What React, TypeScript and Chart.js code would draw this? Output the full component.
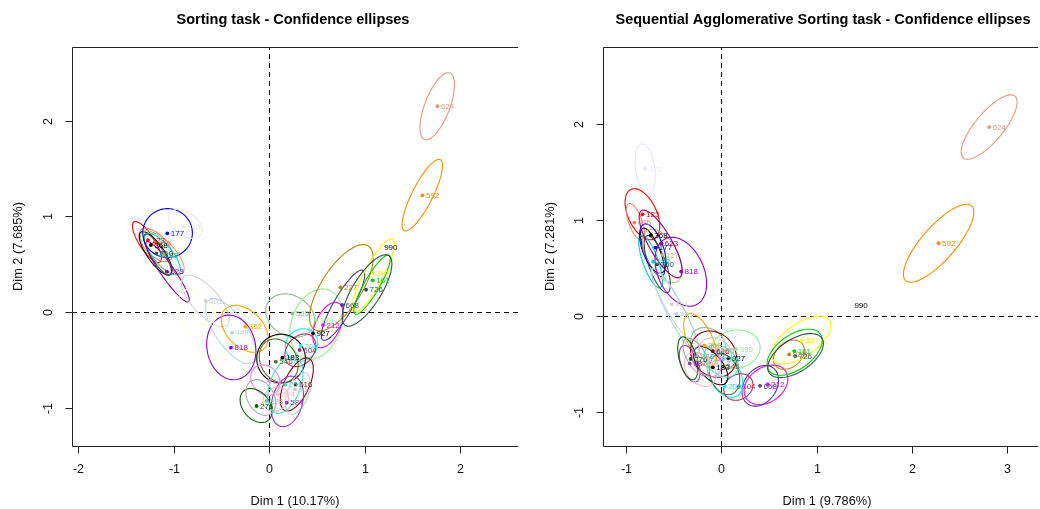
import React, { useEffect, useRef } from "react";
import { Chart, registerables } from "chart.js";
Chart.register(...registerables);

// ---------- data ----------
const labels = ["123","675","368","182","117","760","177","378","623","401","809","449","818","362","565","399","212","927","227","668","387","161","726","990","592","624","204","604","183","546","616","654","587","374","129","276","328","251"];
const colors = ["#FF0000","#FA8072","#000000","#00CED1","#BDB76B","#2F4F4F","#0000FF","#E6E6FA","#8B008B","#D3D3D3","#FFFFE0","#ADD8E6","#9400D3","#FFA500","#8FBC8F","#90EE90","#FF00FF","#000000","#B8860B","#483D8B","#FFFF00","#00CD00","#2F4F4F","#000000","#FF8C00","#E9967A","#00FFFF","#B03060","#000000","#556B2F","#8B0000","#C8C8C8","#9932CC","#FFB6C1","#EE82EE","#006400","#A9A9A9","#40E0D0"];
const hiddenMarkers = ["990"];

// Sorting task: product coordinates
const sortX = [-1.27,-1.2,-1.24,-1.13,-1.1,-1.183,-1.068,-0.898,-1.072,-0.668,-0.707,-0.39,-0.4,-0.25,0.243,0.494,0.564,0.459,0.748,0.765,1.086,1.086,1.016,1.169,1.607,1.764,0.33,0.32,0.139,0.07,0.278,0.271,0.185,0.09,0.0,-0.132,-0.03,0.17];
const sortY = [0.752,0.72,0.70,0.596,0.60,0.613,0.822,0.89,0.421,0.115,-0.122,-0.216,-0.373,-0.153,-0.014,-0.084,-0.136,-0.223,0.258,0.073,0.408,0.331,0.233,0.679,1.219,2.15,-0.355,-0.397,-0.477,-0.519,-0.756,-0.808,-0.947,-0.86,-0.72,-0.982,-0.93,-0.76];
// Sorting task: confidence ellipses (centre, semi-axes, angle in degrees)
const sortEX = [-1.282,-1.19,-1.19,-1.12,-1.12,-1.17,-1.065,-0.88,-1.065,-0.668,-0.70,-0.4,-0.397,-0.256,0.22,0.495,0.617,0,0.757,0.774,1.093,1.079,1.026,0,1.606,1.762,0.339,0.327,0.125,0.1,0.29,0.3,0.19,0.07,-0.04,-0.137,-0.087,0.17];
const sortEY = [0.731,0.70,0.613,0.605,0.62,0.60,0.825,0.92,0.421,0.117,-0.124,-0.2,-0.37,-0.176,-0.037,-0.126,-0.136,0,0.254,0.071,0.382,0.286,0.225,0,1.221,2.15,-0.345,-0.40,-0.487,-0.51,-0.757,-0.85,-0.934,-0.91,-0.71,-0.977,-0.893,-0.763];
const sortEA = [0.25,0.22,0.27,0.27,0.30,0.25,0.26,0.20,0.384,0.34,0.40,0.40,0.34,0.29,0.27,0.38,0.255,0,0.52,0.42,0.43,0.355,0.43,0,0.416,0.372,0.18,0.19,0.255,0.24,0.30,0.23,0.27,0.14,0.17,0.20,0.20,0.31];
const sortEB = [0.08,0.11,0.09,0.10,0.12,0.07,0.255,0.12,0.07,0.14,0.18,0.162,0.255,0.19,0.21,0.26,0.13,0,0.21,0.10,0.10,0.08,0.15,0,0.108,0.131,0.16,0.14,0.255,0.19,0.13,0.11,0.16,0.12,0.14,0.14,0.14,0.16];
const sortEAng = [-57,-45,-55,-50,-45,-58,0,-35,-55,-48,-60,-55,-80,-45,-30,70,65,0,57,60,62,60,58,0,63,69,45,50,0,-60,65,70,75,30,-50,-50,-60,70];

// Sequential agglomerative sorting task: product coordinates
const sasX = [-0.825,-0.91,-0.738,-0.714,-0.616,-0.672,-0.69,-0.797,-0.627,-0.52,-0.25,-0.47,-0.42,-0.174,-0.04,0.157,0.487,0.076,0.713,0.407,0.845,0.766,0.776,1.36,2.28,2.81,0.035,0.184,-0.088,0.017,-0.088,-0.035,-0.33,-0.2,-0.122,-0.32,-0.25,0.02];
const sasY = [1.056,0.97,0.84,0.562,0.632,0.535,0.71,1.53,0.755,0.12,-0.45,0.018,0.46,-0.3125,-0.36,-0.347,-0.715,-0.444,-0.403,-0.73,-0.26,-0.368,-0.42,0.11,0.755,1.965,-0.74,-0.74,-0.537,-0.531,-0.368,-0.357,-0.497,-0.5,-0.444,-0.451,-0.42,-0.45];
const sasEX = [-0.826,-0.9,-0.72,-0.74,-0.617,-0.67,-0.717,-0.797,-0.635,-0.5,-0.25,-0.48,-0.423,-0.22,-0.135,0.15,0.47,0,0.71,0.41,0.84,0.77,0.78,0,2.28,2.81,0.04,0.18,-0.11,0.035,-0.08,-0.06,-0.33,-0.22,-0.15,-0.35,-0.26,0.0];
const sasEY = [1.057,0.98,0.66,0.564,0.623,0.537,0.70,1.53,0.748,0.1,-0.45,0.05,0.458,-0.255,-0.30,-0.35,-0.72,0,-0.406,-0.73,-0.253,-0.38,-0.415,0,0.755,1.965,-0.62,-0.743,-0.52,-0.61,-0.4,-0.38,-0.5,-0.56,-0.47,-0.444,-0.43,-0.47];
const sasEA = [0.285,0.2,0.27,0.29,0.31,0.315,0.27,0.26,0.40,0.45,0.2,0.5,0.38,0.30,0.20,0.26,0.25,0,0.18,0.23,0.36,0.33,0.33,0,0.52,0.42,0.25,0.16,0.24,0.22,0.26,0.18,0.20,0.20,0.18,0.23,0.22,0.20];
const sasEB = [0.15,0.07,0.08,0.08,0.16,0.09,0.11,0.10,0.12,0.08,0.13,0.09,0.24,0.13,0.16,0.20,0.18,0,0.13,0.17,0.17,0.18,0.17,0,0.176,0.148,0.16,0.13,0.12,0.15,0.22,0.14,0.09,0.14,0.13,0.09,0.10,0.14];
const sasEAng = [-65,-70,-68,-70,-60,-70,-70,-82,-60,-60,-50,-62,-65,-65,-40,10,35,0,40,55,35,35,33,0,48.5,50,-60,30,-50,-70,-45,-30,-70,-50,-50,-75,-60,-40];

const sortXTicks = [-2, -1, 0, 1, 2];
const sortYTicks = [-1, 0, 1, 2];
const sasXTicks = [-1, 0, 1, 2, 3];
const sasYTicks = [-1, 0, 1, 2];

const FONT = '"Liberation Sans", Arial, Helvetica, sans-serif';

type Panel = {
  title: string; xTitle: string; yTitle: string;
  px: number[]; py: number[]; ex: number[]; ey: number[]; ea: number[]; eb: number[]; eang: number[];
  xTicks: number[]; yTicks: number[];
  xMin: number; xMax: number; yMin: number; yMax: number;
  padLeft: number; titleCx: number; xTitleCx: number; yTitleX: number;
};

const panels: Panel[] = [
  {
    title: "Sorting task - Confidence ellipses", xTitle: "Dim 1 (10.17%)", yTitle: "Dim 2 (7.685%)",
    px: sortX, py: sortY, ex: sortEX, ey: sortEY, ea: sortEA, eb: sortEB, eang: sortEAng,
    xTicks: sortXTicks, yTicks: sortYTicks,
    xMin: -2.067, xMax: 2.61, yMin: -1.40, yMax: 2.769,
    padLeft: 72, titleCx: 293, xTitleCx: 295, yTitleX: 18,
  },
  {
    title: "Sequential Agglomerative Sorting task - Confidence ellipses", xTitle: "Dim 1 (9.786%)", yTitle: "Dim 2 (7.281%)",
    px: sasX, py: sasY, ex: sasEX, ey: sasEY, ea: sasEA, eb: sasEB, eang: sasEAng,
    xTicks: sasXTicks, yTicks: sasYTicks,
    xMin: -1.239, xMax: 3.323, yMin: -1.357, yMax: 2.799,
    padLeft: 83, titleCx: 303, xTitleCx: 307, yTitleX: 30,
  },
];

function makePlugin(p: Panel) {
  return {
    id: "rstyle",
    beforeDatasetsDraw(chart: any) {
      const { ctx, chartArea: ca } = chart;
      const xs = chart.scales.x, ys = chart.scales.y;
      ctx.save();
      ctx.beginPath();
      ctx.rect(ca.left, ca.top, ca.right - ca.left, ca.bottom - ca.top);
      ctx.clip();
      // zero lines
      ctx.strokeStyle = "#000";
      ctx.lineWidth = 1;
      ctx.setLineDash([5, 4]);
      const x0 = Math.round(xs.getPixelForValue(0)) + 0.5;
      const y0 = Math.round(ys.getPixelForValue(0)) + 0.5;
      ctx.beginPath(); ctx.moveTo(x0, ca.bottom); ctx.lineTo(x0, ca.top); ctx.stroke();
      ctx.beginPath(); ctx.moveTo(ca.left, y0); ctx.lineTo(ca.right, y0); ctx.stroke();
      ctx.setLineDash([]);
      // ellipses
      for (let i = 0; i < labels.length; i++) {
        const a = p.ea[i], b = p.eb[i];
        if (!a || !b) continue;
        const th = (p.eang[i] * Math.PI) / 180;
        const c = Math.cos(th), s = Math.sin(th);
        ctx.strokeStyle = colors[i];
        ctx.lineWidth = 1.1;
        ctx.beginPath();
        const n = 90;
        for (let k = 0; k <= n; k++) {
          const t = (k / n) * Math.PI * 2;
          const u = a * Math.cos(t), v = b * Math.sin(t);
          const dx = p.ex[i] + u * c - v * s;
          const dy = p.ey[i] + u * s + v * c;
          const X = xs.getPixelForValue(dx), Y = ys.getPixelForValue(dy);
          if (k === 0) ctx.moveTo(X, Y); else ctx.lineTo(X, Y);
        }
        ctx.closePath();
        ctx.stroke();
      }
      ctx.restore();
    },
    afterDatasetsDraw(chart: any) {
      const { ctx } = chart;
      const xs = chart.scales.x, ys = chart.scales.y;
      ctx.save();
      ctx.font = `8px ${FONT}`;
      ctx.textAlign = "left";
      ctx.textBaseline = "middle";
      for (let i = 0; i < labels.length; i++) {
        ctx.fillStyle = colors[i];
        ctx.fillText(labels[i], xs.getPixelForValue(p.px[i]) + 3.5, ys.getPixelForValue(p.py[i]) + 0.5);
      }
      ctx.restore();
    },
    afterDraw(chart: any) {
      const { ctx, chartArea: ca } = chart;
      const xs = chart.scales.x, ys = chart.scales.y;
      ctx.save();
      ctx.strokeStyle = "#222";
      ctx.lineWidth = 1;
      // box (left, top, bottom)
      ctx.beginPath();
      ctx.moveTo(ca.right, ca.top + 0.5);
      ctx.lineTo(ca.left + 0.5, ca.top + 0.5);
      ctx.lineTo(ca.left + 0.5, ca.bottom + 0.5);
      ctx.lineTo(ca.right, ca.bottom + 0.5);
      ctx.stroke();
      // ticks
      ctx.fillStyle = "#111";
      ctx.font = `12.5px ${FONT}`;
      ctx.textAlign = "center";
      ctx.textBaseline = "middle";
      for (const v of p.xTicks) {
        const X = Math.round(xs.getPixelForValue(v)) + 0.5;
        ctx.beginPath(); ctx.moveTo(X, ca.bottom + 0.5); ctx.lineTo(X, ca.bottom + 7.5); ctx.stroke();
        ctx.fillText(String(v), X, ca.bottom + 24);
      }
      for (const v of p.yTicks) {
        const Y = Math.round(ys.getPixelForValue(v)) + 0.5;
        ctx.beginPath(); ctx.moveTo(ca.left + 0.5, Y); ctx.lineTo(ca.left - 6.5, Y); ctx.stroke();
        ctx.save();
        ctx.translate(ca.left - 23, Y);
        ctx.rotate(-Math.PI / 2);
        ctx.fillText(String(v), 0, 0);
        ctx.restore();
      }
      // axis titles
      ctx.font = `12.8px ${FONT}`;
      ctx.fillText(p.xTitle, p.xTitleCx, 501);
      ctx.save();
      ctx.translate(p.yTitleX, (ca.top + ca.bottom) / 2);
      ctx.rotate(-Math.PI / 2);
      ctx.fillText(p.yTitle, 0, 0);
      ctx.restore();
      // main title
      ctx.fillStyle = "#000";
      ctx.font = `bold 14.5px ${FONT}`;
      ctx.fillText(p.title, p.titleCx, 20);
      ctx.restore();
    },
  };
}

function PanelChart({ p, left }: { p: Panel; left: number }) {
  const ref = useRef<HTMLCanvasElement | null>(null);
  useEffect(() => {
    if (!ref.current) return;
    const pts = labels.map((_, i) => ({ x: p.px[i], y: p.py[i] }));
    const chart = new Chart(ref.current, {
      type: "scatter",
      data: {
        datasets: [
          {
            data: pts,
            pointBackgroundColor: colors,
            pointBorderWidth: 0,
            pointRadius: labels.map((l) => (hiddenMarkers.includes(l) ? 0 : 1.9)),
            pointHoverRadius: 0,
          },
        ],
      },
      options: {
        animation: false,
        responsive: false,
        devicePixelRatio: 1,
        events: [],
        layout: { padding: { left: p.padLeft, right: 0, top: 47, bottom: 63 } },
        plugins: { legend: { display: false }, tooltip: { enabled: false }, title: { display: false } },
        scales: {
          x: { type: "linear", min: p.xMin, max: p.xMax, display: false },
          y: { type: "linear", min: p.yMin, max: p.yMax, display: false },
        },
      },
      plugins: [makePlugin(p)],
    } as any);
    return () => chart.destroy();
  }, [p]);
  return (
    <canvas
      ref={ref}
      width={520}
      height={509}
      style={{ position: "absolute", left, top: 0, width: 520, height: 509 }}
    />
  );
}

export default function App() {
  return (
    <div style={{ position: "fixed", left: 0, top: 0, width: 1040, height: 509, background: "#fff", overflow: "hidden" }}>
      <PanelChart p={panels[0]} left={0} />
      <PanelChart p={panels[1]} left={520} />
    </div>
  );
}
